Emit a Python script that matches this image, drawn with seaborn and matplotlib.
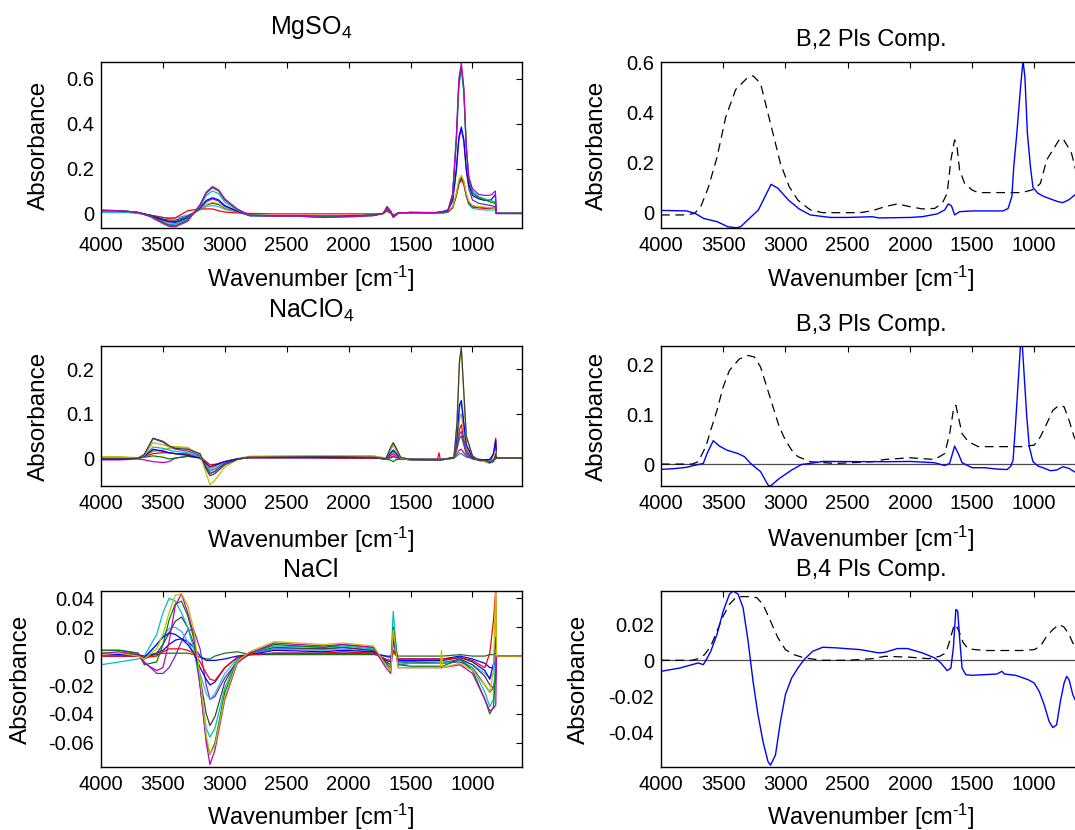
import matplotlib
matplotlib.use("Agg")
import matplotlib.pyplot as plt
import seaborn as sns

# ---------------------------------------------------------------- data
x_ticks = [4000, 3500, 3000, 2500, 2000, 1500, 1000]
x_tick_labels = ["4000", "3500", "3000", "2500", "2000", "1500", "1000"]

# ---- MgSO4 spectra
mg_wn = [4000, 3900, 3800, 3700, 3600, 3500, 3450, 3400, 3300, 3200, 3150, 3100, 3050, 3000, 2900,
         2800, 2600, 2400, 2200, 2000, 1800, 1720, 1690, 1660, 1640, 1600, 1500, 1300, 1230, 1200,
         1160, 1130, 1110, 1090, 1070, 1050, 1030, 1000, 950, 900, 850, 815, 808, 600]
mg_magenta = [0.012, 0.013, 0.010, 0.004, -0.015, -0.045, -0.058, -0.060, -0.035, 0.040, 0.095, 0.120, 0.105, 0.065, 0.020,
              -0.008, -0.012, -0.012, -0.018, -0.015, -0.010, 0.000, 0.030, 0.010, -0.018, 0.002, 0.005, 0.004, 0.008, 0.010,
              0.090, 0.350, 0.600, 0.670, 0.560, 0.300, 0.160, 0.110, 0.085, 0.080, 0.082, 0.100, 0.000, 0.000]
mg_green = [0.014, 0.012, 0.010, 0.004, -0.012, -0.040, -0.052, -0.055, -0.030, 0.035, 0.090, 0.115, 0.100, 0.060, 0.018,
            -0.008, -0.010, -0.010, -0.012, -0.012, -0.008, 0.000, 0.030, 0.008, -0.015, 0.002, 0.004, 0.003, 0.006, 0.008,
            0.080, 0.330, 0.580, 0.660, 0.550, 0.290, 0.150, 0.090, 0.070, 0.060, 0.050, 0.045, 0.000, 0.000]
mg_cyan = [0.008, 0.008, 0.006, 0.002, -0.012, -0.040, -0.050, -0.048, -0.025, 0.030, 0.080, 0.100, 0.088, 0.050, 0.015,
           -0.010, -0.013, -0.013, -0.015, -0.015, -0.010, 0.000, 0.028, 0.008, -0.018, 0.000, 0.003, 0.002, 0.005, 0.008,
           0.080, 0.320, 0.560, 0.640, 0.540, 0.300, 0.170, 0.100, 0.075, 0.065, 0.058, 0.050, 0.000, 0.000]
mg_blue = [0.015, 0.013, 0.010, 0.005, -0.010, -0.030, -0.038, -0.040, -0.020, 0.025, 0.058, 0.070, 0.060, 0.035, 0.010,
           -0.010, -0.012, -0.012, -0.018, -0.012, -0.008, 0.000, 0.025, 0.008, -0.015, 0.002, 0.004, 0.003, 0.010, 0.015,
           0.060, 0.200, 0.340, 0.385, 0.330, 0.200, 0.130, 0.080, 0.065, 0.058, 0.060, 0.085, 0.000, 0.000]
mg_purple = [0.010, 0.010, 0.008, 0.003, -0.010, -0.028, -0.035, -0.036, -0.018, 0.022, 0.052, 0.065, 0.055, 0.032, 0.010,
             -0.010, -0.012, -0.012, -0.014, -0.012, -0.008, 0.000, 0.022, 0.006, -0.015, 0.002, 0.004, 0.003, 0.006, 0.010,
             0.055, 0.190, 0.330, 0.375, 0.320, 0.190, 0.110, 0.060, 0.045, 0.040, 0.035, 0.030, 0.000, 0.000]
mg_olive = [0.012, 0.012, 0.010, 0.004, -0.012, -0.035, -0.045, -0.045, -0.020, 0.018, 0.040, 0.050, 0.044, 0.026, 0.008,
            -0.008, -0.010, -0.010, -0.012, -0.010, -0.008, 0.000, 0.020, 0.006, -0.012, 0.002, 0.003, 0.002, 0.005, 0.008,
            0.030, 0.090, 0.150, 0.170, 0.145, 0.090, 0.055, 0.035, 0.030, 0.028, 0.025, 0.022, 0.000, 0.000]
mg_gray = [0.010, 0.010, 0.008, 0.003, -0.008, -0.025, -0.030, -0.030, -0.012, 0.018, 0.038, 0.045, 0.040, 0.024, 0.008,
           -0.008, -0.010, -0.010, -0.012, -0.010, -0.008, 0.000, 0.018, 0.005, -0.012, 0.002, 0.003, 0.002, 0.004, 0.006,
           0.028, 0.085, 0.140, 0.160, 0.140, 0.085, 0.050, 0.032, 0.028, 0.026, 0.024, 0.022, 0.000, 0.000]
mg_red = [0.010, 0.010, 0.008, 0.003, -0.008, -0.018, -0.022, -0.020, 0.012, 0.020, 0.020, 0.020, 0.012, 0.006, 0.002,
          0.000, -0.002, -0.002, -0.002, -0.002, -0.002, 0.000, 0.010, 0.000, -0.006, 0.000, 0.002, 0.002, 0.003, 0.005,
          0.025, 0.080, 0.130, 0.150, 0.130, 0.080, 0.045, 0.028, 0.025, 0.022, 0.022, 0.025, 0.000, 0.000]
mg_lightcyan = [0.004, 0.004, 0.004, 0.000, -0.008, -0.018, -0.020, -0.020, -0.008, 0.015, 0.030, 0.035, 0.030, 0.018, 0.006,
                -0.008, -0.010, -0.010, -0.012, -0.010, -0.008, 0.000, 0.015, 0.003, -0.012, 0.000, 0.002, 0.001, 0.003, 0.005,
                0.025, 0.080, 0.135, 0.155, 0.130, 0.075, 0.040, 0.022, 0.018, 0.015, 0.015, 0.015, 0.000, 0.000]

# ---- NaClO4 spectra
clo_wn = [4000, 3850, 3700, 3650, 3580, 3500, 3450, 3400, 3300, 3200, 3150, 3120, 3080, 3000, 2900,
          2800, 2300, 2100, 1800, 1700, 1660, 1640, 1620, 1580, 1500, 1300, 1280, 1270, 1260, 1150,
          1125, 1105, 1090, 1070, 1050, 1000, 950, 900, 860, 830, 812, 806, 600]
clo_teal = [0.000, 0.000, 0.000, 0.004, 0.018, 0.015, 0.012, 0.010, 0.010, 0.002, -0.018, -0.028, -0.024, -0.010, -0.002,
            0.001, 0.001, 0.001, 0.001, -0.002, 0.000, 0.003, 0.001, -0.001, -0.002, -0.002, -0.002, -0.002, -0.002, 0.000,
            0.005, 0.010, 0.010, 0.006, 0.002, -0.001, -0.003, -0.004, -0.006, -0.005, -0.002, 0.000, 0.000]
clo_magenta = [-0.004, -0.004, -0.002, -0.004, -0.008, -0.010, -0.008, 0.000, 0.004, 0.000, -0.012, -0.020, -0.017, -0.008, -0.002,
               0.001, 0.001, 0.001, 0.000, -0.002, 0.002, 0.005, 0.002, -0.002, -0.003, -0.003, -0.003, -0.003, -0.003, 0.000,
               0.010, 0.018, 0.020, 0.012, 0.005, 0.000, -0.003, -0.004, -0.005, -0.004, 0.000, 0.000, 0.000]
clo_green = [0.002, 0.002, 0.000, 0.002, 0.005, 0.002, -0.002, 0.000, 0.004, 0.002, -0.020, -0.035, -0.030, -0.012, -0.002,
             0.002, 0.002, 0.002, 0.001, -0.002, -0.005, -0.008, -0.004, -0.002, -0.004, -0.004, -0.004, -0.004, -0.004, 0.000,
             0.020, 0.045, 0.050, 0.030, 0.010, -0.002, -0.005, -0.006, -0.008, -0.005, 0.000, 0.000, 0.000]
clo_red = [-0.002, -0.002, 0.000, 0.003, 0.010, 0.012, 0.012, 0.010, 0.008, 0.004, -0.008, -0.015, -0.014, -0.008, -0.002,
           0.001, 0.001, 0.000, 0.000, -0.001, 0.006, 0.010, 0.006, -0.002, -0.003, -0.003, 0.000, 0.012, -0.003, 0.000,
           0.025, 0.065, 0.075, 0.045, 0.018, 0.000, -0.005, -0.008, -0.012, 0.010, 0.045, 0.000, 0.000]
clo_brown = [0.001, 0.001, 0.001, 0.003, 0.015, 0.018, 0.022, 0.025, 0.022, 0.008, -0.015, -0.025, -0.020, -0.008, -0.001,
             0.004, 0.005, 0.005, 0.005, 0.000, 0.010, 0.015, 0.010, -0.001, -0.003, -0.003, -0.003, -0.003, -0.003, 0.000,
             0.035, 0.090, 0.100, 0.060, 0.022, 0.002, -0.004, -0.005, -0.008, -0.005, 0.005, 0.000, 0.000]
clo_cyan = [0.000, 0.000, 0.000, 0.005, 0.025, 0.022, 0.018, 0.015, 0.012, 0.002, -0.020, -0.030, -0.025, -0.010, -0.002,
            0.002, 0.002, 0.002, 0.002, -0.002, 0.010, 0.015, 0.010, 0.000, -0.003, -0.003, -0.003, -0.003, -0.003, 0.001,
            0.045, 0.115, 0.125, 0.075, 0.028, 0.003, -0.003, -0.004, -0.006, -0.004, 0.005, 0.000, 0.000]
clo_purple = [-0.002, -0.002, 0.000, 0.008, 0.044, 0.036, 0.026, 0.020, 0.016, 0.006, -0.022, -0.035, -0.030, -0.012, -0.002,
              0.002, 0.002, 0.002, 0.002, -0.002, 0.020, 0.030, 0.020, 0.000, -0.003, -0.003, -0.003, -0.003, -0.003, 0.000,
              0.030, 0.055, 0.060, 0.035, 0.012, 0.000, -0.004, -0.005, -0.008, -0.006, 0.005, 0.000, 0.000]
clo_blue = [-0.003, -0.003, 0.000, 0.004, 0.020, 0.016, 0.012, 0.010, 0.006, 0.000, -0.012, -0.020, -0.016, -0.008, -0.002,
            0.001, 0.001, 0.001, 0.001, -0.002, 0.012, 0.018, 0.012, -0.001, -0.004, -0.005, -0.005, -0.005, -0.005, 0.002,
            0.050, 0.120, 0.130, 0.080, 0.030, 0.002, -0.004, -0.004, -0.003, 0.010, 0.040, 0.000, 0.000]
clo_olive = [0.003, 0.003, 0.001, 0.006, 0.035, 0.030, 0.025, 0.026, 0.024, 0.008, -0.035, -0.060, -0.050, -0.020, -0.004,
             0.003, 0.005, 0.005, 0.003, -0.002, 0.020, 0.030, 0.020, 0.000, -0.004, -0.004, -0.004, -0.004, -0.004, 0.000,
             0.075, 0.215, 0.245, 0.145, 0.048, 0.005, -0.006, -0.008, -0.012, -0.008, 0.015, 0.000, 0.000]
clo_gray = [-0.002, -0.002, 0.000, 0.008, 0.045, 0.038, 0.028, 0.022, 0.020, 0.010, -0.025, -0.040, -0.035, -0.015, -0.003,
            0.002, 0.003, 0.003, 0.002, -0.002, 0.025, 0.035, 0.025, 0.002, -0.003, -0.004, -0.004, -0.004, -0.004, 0.000,
            0.080, 0.220, 0.250, 0.150, 0.050, 0.005, -0.005, -0.005, -0.010, -0.008, 0.010, 0.000, 0.000]

# ---- NaCl spectra
nacl_wn = [4000, 3850, 3700, 3650, 3550, 3500, 3450, 3400, 3350, 3300, 3250, 3200, 3150, 3120, 3080,
           3000, 2900, 2800, 2600, 2200, 2050, 1800, 1700, 1660, 1640, 1620, 1600, 1500, 1260, 1250,
           1240, 1100, 1000, 900, 860, 830, 812, 806, 600]
nacl_darkgreen = [0.001, 0.001, 0.001, 0.000, 0.001, 0.002, 0.002, 0.002, 0.002, 0.002, 0.001, -0.001, -0.002, -0.002, 0.000,
                  0.002, 0.003, 0.001, 0.001, 0.001, 0.001, 0.001, 0.000, 0.000, 0.002, 0.001, 0.000, 0.000, 0.000, 0.000,
                  0.000, 0.001, 0.000, 0.000, 0.001, 0.001, 0.002, 0.000, 0.000]
nacl_blue2 = [0.000, 0.000, 0.000, 0.000, 0.002, 0.004, 0.008, 0.011, 0.012, 0.010, 0.006, 0.000, -0.003, -0.003, -0.003,
              -0.002, 0.000, 0.001, 0.002, 0.002, 0.002, 0.002, 0.000, -0.001, 0.004, 0.002, -0.002, -0.002, -0.002, -0.002,
              -0.002, 0.000, -0.002, -0.005, -0.008, -0.008, -0.002, 0.000, 0.000]
nacl_purple = [0.004, 0.004, 0.002, -0.004, -0.012, -0.012, -0.008, 0.000, 0.010, 0.018, 0.018, 0.005, -0.020, -0.030, -0.028,
               -0.015, -0.004, 0.001, 0.005, 0.005, 0.006, 0.004, -0.006, -0.010, 0.010, 0.003, -0.006, -0.005, -0.005, -0.005,
               -0.005, -0.004, -0.008, -0.020, -0.025, -0.022, -0.010, 0.000, 0.000]
nacl_lightcyan = [0.000, 0.001, 0.000, -0.002, 0.008, 0.014, 0.019, 0.020, 0.017, 0.010, 0.002, -0.012, -0.026, -0.030, -0.026,
                  -0.012, -0.002, 0.001, 0.005, 0.004, 0.005, 0.003, -0.004, -0.006, 0.010, 0.003, -0.005, -0.004, -0.004, -0.004,
                  -0.004, -0.003, -0.006, -0.012, -0.015, -0.012, -0.005, 0.000, 0.000]
nacl_gray = [0.002, 0.002, 0.001, -0.002, 0.002, 0.008, 0.016, 0.024, 0.027, 0.020, 0.008, -0.015, -0.040, -0.048, -0.042,
             -0.018, -0.003, 0.002, 0.006, 0.005, 0.006, 0.004, -0.004, -0.006, 0.012, 0.004, -0.004, -0.004, -0.005, -0.005,
             -0.005, -0.002, -0.006, -0.014, -0.020, -0.022, -0.015, 0.000, 0.000]
nacl_teal = [-0.006, -0.004, -0.002, 0.000, 0.015, 0.030, 0.040, 0.038, 0.030, 0.020, 0.005, -0.020, -0.050, -0.056, -0.050,
             -0.022, -0.003, 0.002, 0.007, 0.006, 0.007, 0.005, -0.006, -0.008, 0.031, 0.010, -0.006, -0.005, -0.005, -0.005,
             -0.005, -0.003, -0.008, -0.025, -0.035, -0.030, -0.003, 0.000, 0.000]
nacl_green = [0.004, 0.004, 0.002, -0.006, -0.004, 0.008, 0.025, 0.036, 0.038, 0.028, 0.012, -0.020, -0.058, -0.068, -0.060,
              -0.025, -0.004, 0.002, 0.008, 0.006, 0.008, 0.006, -0.005, -0.008, 0.020, 0.008, -0.006, -0.007, -0.007, -0.007,
              -0.007, -0.002, -0.010, -0.030, -0.040, -0.035, -0.010, 0.000, 0.000]
nacl_magenta = [0.002, 0.003, 0.001, -0.005, -0.010, -0.008, 0.010, 0.035, 0.043, 0.030, 0.015, -0.020, -0.060, -0.075, -0.065,
                -0.030, -0.005, 0.002, 0.009, 0.007, 0.008, 0.006, -0.008, -0.012, 0.015, 0.005, -0.008, -0.008, -0.008, -0.008,
                -0.008, -0.006, -0.012, -0.030, -0.038, -0.036, -0.034, 0.000, 0.000]
nacl_blue = [0.001, 0.001, 0.000, -0.001, 0.008, 0.013, 0.016, 0.015, 0.012, 0.008, 0.002, -0.008, -0.016, -0.020, -0.018,
             -0.008, -0.001, 0.001, 0.004, 0.003, 0.004, 0.003, -0.003, -0.004, 0.012, 0.004, -0.003, -0.003, -0.003, -0.003,
             -0.003, -0.001, -0.004, -0.010, -0.016, -0.005, 0.013, 0.000, 0.000]
nacl_red = [0.000, 0.000, 0.000, -0.001, 0.000, 0.003, 0.005, 0.005, 0.005, 0.004, 0.002, -0.004, -0.012, -0.016, -0.017,
            -0.008, -0.001, 0.001, 0.002, 0.002, 0.003, 0.002, -0.002, -0.003, 0.004, 0.001, -0.002, -0.002, -0.002, -0.002,
            -0.002, -0.001, -0.003, -0.008, 0.002, 0.025, 0.046, 0.000, 0.000]
nacl_olive = [0.001, 0.002, 0.000, -0.002, 0.005, 0.015, 0.030, 0.042, 0.043, 0.035, 0.018, -0.015, -0.055, -0.068, -0.062,
              -0.028, -0.004, 0.003, 0.010, 0.008, 0.009, 0.007, -0.006, -0.010, 0.018, 0.005, -0.008, -0.008, -0.008, 0.004,
              -0.008, -0.005, -0.010, -0.020, -0.025, -0.010, 0.050, 0.000, 0.000]

# ---- PLS regression vectors (solid) and reference spectrum (dashed)
b2_blue_wn = [4000, 3794, 3725, 3657, 3547, 3464, 3395, 3360, 3217, 3115, 3060, 2975, 2890, 2800, 2640, 2500,
              2300, 2250, 2000, 1900, 1780, 1720, 1690, 1665, 1640, 1600, 1500, 1250, 1210, 1180, 1165, 1140,
              1110, 1090, 1075, 1055, 1030, 1010, 970, 920, 860, 810, 770, 720, 680, 640, 600]
b2_blue_abs = [0.009, 0.007, -0.003, -0.023, -0.036, -0.056, -0.060, -0.056, 0.011, 0.113, 0.097, 0.050, 0.015, -0.009,
               -0.019, -0.019, -0.016, -0.021, -0.019, -0.016, -0.005, 0.011, 0.035, 0.027, -0.009, 0.004, 0.007, 0.007,
               0.017, 0.064, 0.180, 0.316, 0.500, 0.605, 0.540, 0.316, 0.180, 0.100, 0.077, 0.064, 0.053, 0.044, 0.040,
               0.052, 0.068, 0.085, 0.100]
b2_ref_wn = [4000, 3800, 3730, 3680, 3620, 3550, 3480, 3400, 3300, 3260, 3200, 3160, 3100, 3040, 2970, 2900,
             2800, 2700, 2400, 2300, 2200, 2100, 2000, 1900, 1800, 1740, 1700, 1670, 1640, 1620, 1600, 1560,
             1500, 1450, 1100, 1000, 950, 900, 850, 800, 770, 730, 700, 660, 600]
b2_ref_abs = [-0.009, -0.009, -0.003, 0.024, 0.100, 0.220, 0.380, 0.490, 0.540, 0.545, 0.515, 0.435, 0.316, 0.196,
              0.104, 0.050, 0.011, 0.000, 0.000, 0.008, 0.024, 0.035, 0.024, 0.015, 0.017, 0.037, 0.077, 0.210, 0.290,
              0.260, 0.170, 0.117, 0.090, 0.080, 0.080, 0.093, 0.117, 0.210, 0.250, 0.290, 0.296, 0.263, 0.236, 0.157,
              0.080]

b3_blue_wn = [4000, 3900, 3800, 3720, 3660, 3630, 3580, 3530, 3470, 3380, 3330, 3280, 3200, 3140, 3120, 3050,
              2950, 2870, 2800, 2700, 2200, 2000, 1800, 1720, 1680, 1640, 1610, 1580, 1500, 1400, 1300, 1220,
              1190, 1170, 1150, 1130, 1110, 1095, 1080, 1060, 1040, 1010, 970, 930, 870, 820, 770, 720, 680, 640, 600]
b3_blue_abs = [-0.0107, -0.0093, -0.0067, -0.002, 0.0013, 0.021, 0.047, 0.036, 0.028, 0.021, 0.015, 0.0013, -0.015,
               -0.042, -0.044, -0.029, -0.012, -0.0007, 0.0013, 0.0053, 0.0047, 0.0053, 0.0027, -0.003, 0.0013, 0.036,
               0.021, 0.0027, -0.0073, -0.0073, -0.010, -0.011, -0.005, 0.008, 0.081, 0.161, 0.240, 0.235, 0.175, 0.095,
               0.035, 0.0047, -0.004, -0.0073, -0.0133, -0.012, -0.0053, -0.0087, -0.015, -0.020, -0.026]
b3_ref_wn = [4000, 3750, 3700, 3680, 3640, 3600, 3550, 3500, 3450, 3370, 3300, 3250, 3200, 3150, 3100, 3050,
             3000, 2950, 2900, 2800, 2600, 2300, 2200, 2000, 1800, 1720, 1680, 1650, 1630, 1610, 1580, 1530,
             1450, 1100, 1000, 950, 900, 850, 800, 760, 720, 680, 640, 600]
b3_ref_abs = [0.0, 0.0, 0.0047, 0.015, 0.035, 0.068, 0.108, 0.155, 0.188, 0.211, 0.218, 0.215, 0.195, 0.155, 0.115,
              0.075, 0.048, 0.028, 0.015, 0.0047, 0.0013, 0.0047, 0.0093, 0.0127, 0.0093, 0.021, 0.061, 0.108, 0.118,
              0.095, 0.061, 0.045, 0.035, 0.035, 0.038, 0.055, 0.081, 0.108, 0.118, 0.115, 0.088, 0.055, 0.035, 0.020]

b4_blue_wn = [4000, 3850, 3750, 3700, 3660, 3640, 3600, 3550, 3500, 3450, 3420, 3380, 3340, 3300, 3260, 3220,
              3180, 3140, 3120, 3080, 3040, 3000, 2950, 2900, 2850, 2780, 2700, 2600, 2400, 2250, 2200, 2100,
              2020, 1900, 1800, 1750, 1700, 1670, 1650, 1630, 1615, 1600, 1580, 1550, 1500, 1300, 1260, 1240,
              1150, 1050, 1000, 960, 920, 880, 850, 820, 790, 760, 740, 720, 690, 650, 600]
b4_blue_abs = [-0.0061, -0.0043, -0.0024, -0.0015, -0.0024, -0.0002, 0.005, 0.0143, 0.0272, 0.0365, 0.0383, 0.0365,
               0.029, 0.0106, -0.0117, -0.0302, -0.045, -0.056, -0.058, -0.0524, -0.0339, -0.019, -0.0098, -0.0043,
               0.0004, 0.005, 0.0072, 0.0069, 0.0059, 0.0041, 0.0044, 0.0065, 0.0065, 0.0041, 0.0013, -0.0015, -0.0057,
               -0.0043, 0.0069, 0.0281, 0.0272, 0.0124, -0.0043, -0.008, -0.0083, -0.0076, -0.0061, -0.0076, -0.0083,
               -0.0107, -0.0126, -0.0172, -0.0246, -0.0339, -0.0372, -0.0357, -0.0228, -0.0126, -0.0089, -0.0107,
               -0.019, -0.025, -0.032]
b4_ref_wn = [4000, 3750, 3700, 3650, 3600, 3550, 3500, 3450, 3400, 3350, 3280, 3230, 3180, 3120, 3060, 3000,
             2930, 2850, 2700, 2500, 2300, 2200, 2000, 1850, 1760, 1710, 1680, 1650, 1630, 1600, 1570, 1530,
             1400, 1100, 1000, 950, 900, 850, 800, 760, 720, 690, 650, 600]
b4_ref_abs = [0.0, 0.0, 0.0009, 0.0031, 0.0078, 0.0161, 0.0244, 0.0309, 0.0346, 0.0352, 0.0352, 0.0346, 0.0309,
              0.0217, 0.0124, 0.0059, 0.0031, 0.0013, 0.0, 0.0, 0.0009, 0.0022, 0.0017, 0.0009, 0.0022, 0.0041,
              0.0106, 0.018, 0.0198, 0.0152, 0.0096, 0.0063, 0.0054, 0.0054, 0.0059, 0.0078, 0.0133, 0.017, 0.0198,
              0.0183, 0.0143, 0.0096, 0.006, 0.003]

# y-axis ticks per panel
mg_yticks, mg_ylabels = [0, 0.2, 0.4, 0.6], ["0", "0.2", "0.4", "0.6"]
clo_yticks, clo_ylabels = [0, 0.1, 0.2], ["0", "0.1", "0.2"]
nacl_yticks = [-0.06, -0.04, -0.02, 0, 0.02, 0.04]
nacl_ylabels = ["-0.06", "-0.04", "-0.02", "0", "0.02", "0.04"]
b2_yticks, b2_ylabels = [0, 0.2, 0.4, 0.6], ["0", "0.2", "0.4", "0.6"]
b3_yticks, b3_ylabels = [0, 0.1, 0.2], ["0", "0.1", "0.2"]
b4_yticks, b4_ylabels = [-0.04, -0.02, 0, 0.02], ["-0.04", "-0.02", "0", "0.02"]

# ---------------------------------------------------------------- style
sns.set_theme(style="white")
plt.rcParams["font.family"] = ["Liberation Sans", "DejaVu Sans"]
plt.rcParams["mathtext.default"] = "regular"
plt.rcParams["axes.unicode_minus"] = False

C_B = (0.0, 0.0, 1.0)
C_G = (0.0, 0.5, 0.0)
C_R = (1.0, 0.0, 0.0)
C_C = (0.0, 0.75, 0.75)
C_M = (0.75, 0.0, 0.75)
C_Y = (0.75, 0.75, 0.0)
C_K = (0.25, 0.25, 0.25)
C_PUR = (0.45, 0.15, 0.8)
C_BRN = (0.8, 0.55, 0.2)
C_TEAL = (0.15, 0.55, 0.55)
C_LC = (0.2, 0.7, 0.9)
C_DG = (0.1, 0.45, 0.1)

W, H = 1075, 830
fig = plt.figure(figsize=(W / 100, H / 100), dpi=100)


def add_ax(x0, y0, x1, y1):
    return fig.add_axes([x0 / W, 1 - y1 / H, (x1 - x0) / W, (y1 - y0) / H])


def style(ax, ylim, yticks, ylabels):
    ax.set_xlim(4000, 600)
    ax.set_ylim(*ylim)
    ax.set_xticks(x_ticks)
    ax.set_xticklabels(x_tick_labels)
    ax.set_yticks(yticks)
    ax.set_yticklabels(ylabels)
    ax.tick_params(direction="in", top=True, right=True, length=4, width=0.8,
                   labelsize=14.5, pad=5, colors="black")
    ax.tick_params(axis="x", pad=6)
    for s in ax.spines.values():
        s.set_linewidth(1.0)
        s.set_color("black")
    ax.set_xlabel("")
    ax.set_ylabel("")


def spectra(ax, wn, series):
    for vals, col in series:
        sns.lineplot(x=wn, y=vals, ax=ax, color=col, linewidth=0.9,
                     estimator=None, sort=False, legend=False)


LX0, LX1 = 101, 522
RX0, RX1 = 661, 1084
rows = [(62, 228), (346, 486), (591, 767)]

# ---- left column
ax1 = add_ax(LX0, rows[0][0], LX1, rows[0][1])
spectra(ax1, mg_wn, [(mg_lightcyan, C_LC), (mg_red, C_R), (mg_gray, C_K), (mg_olive, C_Y),
                     (mg_purple, C_PUR), (mg_blue, C_B), (mg_cyan, C_C), (mg_green, C_G),
                     (mg_magenta, C_M)])
style(ax1, (-0.065, 0.675), mg_yticks, mg_ylabels)

ax3 = add_ax(LX0, rows[1][0], LX1, rows[1][1])
spectra(ax3, clo_wn, [(clo_teal, C_TEAL), (clo_magenta, C_M), (clo_green, C_G), (clo_red, C_R),
                      (clo_brown, C_BRN), (clo_cyan, C_C), (clo_purple, C_PUR), (clo_blue, C_B),
                      (clo_olive, C_Y), (clo_gray, C_K)])
style(ax3, (-0.063, 0.253), clo_yticks, clo_ylabels)

ax5 = add_ax(LX0, rows[2][0], LX1, rows[2][1])
spectra(ax5, nacl_wn, [(nacl_darkgreen, C_DG), (nacl_blue2, C_B), (nacl_purple, C_PUR),
                       (nacl_lightcyan, C_LC), (nacl_gray, C_K), (nacl_teal, C_C), (nacl_green, C_G),
                       (nacl_magenta, C_M), (nacl_blue, C_B), (nacl_red, C_R), (nacl_olive, C_Y)])
style(ax5, (-0.0767, 0.045), nacl_yticks, nacl_ylabels)


# ---- right column
def pls(ax, wb, vb, wr, vr, zero_line):
    if zero_line:
        ax.axhline(0, color=(0.3, 0.3, 0.3), linewidth=0.9, zorder=1)
    sns.lineplot(x=wr, y=vr, ax=ax, color="black", linewidth=0.9, linestyle=(0, (7, 4.5)),
                 estimator=None, sort=False, legend=False)
    sns.lineplot(x=wb, y=vb, ax=ax, color=C_B, linewidth=1.0,
                 estimator=None, sort=False, legend=False)


ax2 = add_ax(RX0, rows[0][0], RX1, rows[0][1])
pls(ax2, b2_blue_wn, b2_blue_abs, b2_ref_wn, b2_ref_abs, False)
style(ax2, (-0.061, 0.6), b2_yticks, b2_ylabels)

ax4 = add_ax(RX0, rows[1][0], RX1, rows[1][1])
pls(ax4, b3_blue_wn, b3_blue_abs, b3_ref_wn, b3_ref_abs, True)
style(ax4, (-0.044, 0.237), b3_yticks, b3_ylabels)

ax6 = add_ax(RX0, rows[2][0], RX1, rows[2][1])
pls(ax6, b4_blue_wn, b4_blue_abs, b4_ref_wn, b4_ref_abs, True)
style(ax6, (-0.059, 0.0383), b4_yticks, b4_ylabels)


# ---- texts
def ftext(x, y, s, size, **kw):
    fig.text(x / W, 1 - y / H, s, fontsize=size, color="black", **kw)


xl = "Wavenumber [cm$^{\u2010 1}$]"
# titles (baseline positions)
ftext(311, 34, "MgSO$_4$", 18, ha="center", va="baseline")
ftext(311, 318, "NaClO$_4$", 18, ha="center", va="baseline")
ftext(311, 577, "NaCl", 18, ha="center", va="baseline")
ftext(871, 46, "B,2 Pls Comp.", 17, ha="center", va="baseline")
ftext(871, 331, "B,3 Pls Comp.", 17, ha="center", va="baseline")
ftext(871, 576, "B,4 Pls Comp.", 17, ha="center", va="baseline")
# x labels
for xc, yb in [(311, 287), (311, 548), (311, 825), (871, 287), (871, 547), (871, 825)]:
    ftext(xc, yb, xl, 17, ha="center", va="baseline")
# y labels
for xc, (r0, r1) in [(39, rows[0]), (39, rows[1]), (21, rows[2]),
                     (597, rows[0]), (597, rows[1]), (579, rows[2])]:
    ftext(xc, (r0 + r1) / 2, "Absorbance", 17.5, ha="center", va="center", rotation=90)

fig.savefig("out.png", dpi=100)
